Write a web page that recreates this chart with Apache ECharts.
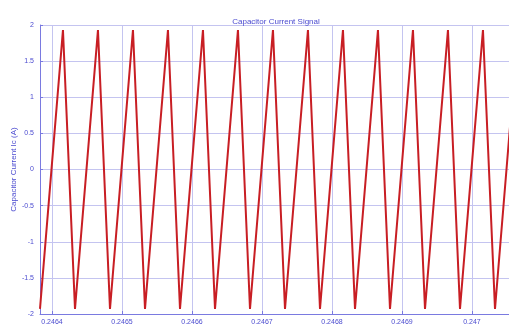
<!DOCTYPE html>
<html>
<head>
<meta charset="utf-8">
<script src="https://cdn.jsdelivr.net/npm/echarts@6/dist/echarts.min.js"></script>
<style>
  html, body { margin: 0; padding: 0; background: #fff; }
  #main { width: 509px; height: 327px; }
</style>
</head>
<body>
<div id="main"></div>
<script>
// time of each corner of the triangle wave (s), alternating trough / peak
var cornerTimes = [
  0.2463829, 0.2464157, 0.2464329, 0.2464657, 0.2464829, 0.2465157,
  0.2465329, 0.2465657, 0.2465829, 0.2466157, 0.2466329, 0.2466657,
  0.2466829, 0.2467157, 0.2467329, 0.2467657, 0.2467829, 0.2468157,
  0.2468329, 0.2468657, 0.2468829, 0.2469157, 0.2469329, 0.2469657,
  0.2469829, 0.2470157, 0.2470329, 0.2470657
]
// capacitor current at those corners (A)
var cornerValues = [
  -1.93, 1.93, -1.93, 1.93, -1.93, 1.93,
  -1.93, 1.93, -1.93, 1.93, -1.93, 1.93,
  -1.93, 1.93, -1.93, 1.93, -1.93, 1.93,
  -1.93, 1.93, -1.93, 1.93, -1.93, 1.93,
  -1.93, 1.93, -1.93, 1.93
]
var xTicks = [0.2464, 0.2465, 0.2466, 0.2467, 0.2468, 0.2469, 0.247]
var xMin = 0.2463829
var xMax = 0.2470529

var blue = '#4b4bd0'
var axisBlue = '#7a7ae0'
var gridBlue = '#c4c4f0'

var points = []
for (var i = 0; i < cornerTimes.length; i++) {
  points.push([cornerTimes[i], cornerValues[i]])
}

var chart = echarts.init(document.getElementById('main'))
var option = {
  animation: false,
  backgroundColor: '#fff',
  title: {
    text: 'Capacitor Current Signal',
    left: 271,
    textAlign: 'center',
    top: 13,
    textStyle: { color: blue, fontSize: 8, fontWeight: 'normal', fontFamily: 'Liberation Sans' }
  },
  grid: { left: 40, right: 0, top: 25, bottom: 13, outerBoundsMode: 'none', containLabel: false },
  xAxis: {
    type: 'value',
    min: xMin,
    max: xMax,
    axisLine: { onZero: false, lineStyle: { color: axisBlue, width: 1 } },
    axisTick: { customValues: xTicks, inside: true, length: 3, lineStyle: { color: axisBlue } },
    axisLabel: {
      customValues: xTicks,
      color: blue,
      fontSize: 7,
      margin: 5,
      fontFamily: 'Liberation Sans'
    },
    splitLine: { show: true, lineStyle: { color: gridBlue, width: 1 } }
  },
  yAxis: {
    type: 'value',
    min: -2,
    max: 2,
    interval: 0.5,
    name: 'Capacitor Current Ic (A)',
    nameLocation: 'middle',
    nameGap: 22,
    nameMoveOverlap: false,
    nameTextStyle: { color: blue, fontSize: 8, fontFamily: 'Liberation Sans' },
    axisLine: { show: true, onZero: false, lineStyle: { color: axisBlue, width: 1 } },
    axisTick: { show: true, inside: true, length: 3, lineStyle: { color: axisBlue } },
    axisLabel: { color: blue, fontSize: 7, margin: 6, fontFamily: 'Liberation Sans' },
    splitLine: { show: true, lineStyle: { color: gridBlue, width: 1 } }
  },
  series: [
    {
      type: 'line',
      data: points,
      symbol: 'none',
      clip: true,
      lineStyle: { color: '#c81e24', width: 2 }
    }
  ]
}
chart.setOption(option)
</script>
</body>
</html>
